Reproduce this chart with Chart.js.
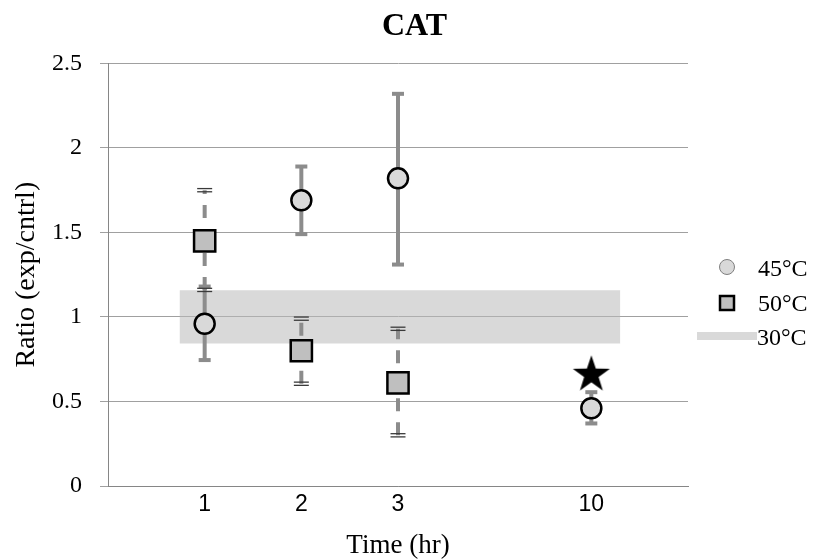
<!DOCTYPE html>
<html><head><meta charset="utf-8">
<script src="https://cdn.jsdelivr.net/npm/chart.js@4.4.0/dist/chart.umd.min.js"></script>
<style>html,body{margin:0;padding:0;background:#fff;}#wrap{width:819px;height:559px;}</style>
</head><body><div id="wrap"><canvas id="c" width="819" height="559"></canvas></div>
<script>
// ---- data ----
const timeLabels = ['1', '2', '3', '10'];
const timeSlots = [1, 2, 3, 5];          // axis slot of each time point (10 hr sits in slot 5)
const ratio45 = [0.96, 1.69, 1.82, 0.46];
const err45Low = [0.745, 1.49, 1.31, 0.37];
const err45High = [1.18, 1.89, 2.32, 0.555];
const ratio50 = [1.45, 0.80, 0.61, null];
const err50Low = [1.16, 0.605, 0.30, null];
const err50High = [1.75, 0.99, 0.93, null];
const band30Slots = [0.74, 5.3];
const band30Low = [0.843, 0.843];
const band30High = [1.158, 1.158];
const starSlots = [5];
const starValues = [0.658];
const yTicks = [0, 0.5, 1, 1.5, 2, 2.5];
const seriesNames = ['45°C', '50°C', '30°C'];

const SERIF = "'Liberation Serif', 'Times New Roman', serif";
const SANS = "'Liberation Sans', Arial, sans-serif";

// filled star marker image
const starImg = document.createElement('canvas');
starImg.width = 42; starImg.height = 42;
(function () {
  const g = starImg.getContext('2d');
  const R = 19.5, r = 7.6, cx = 21, cy = 21;
  g.beginPath();
  for (let k = 0; k < 10; k++) {
    const a = -Math.PI / 2 + k * Math.PI / 5;
    const rr = k % 2 === 0 ? R : r;
    const px = cx + rr * Math.cos(a), py = cy + rr * Math.sin(a);
    if (k === 0) g.moveTo(px, py); else g.lineTo(px, py);
  }
  g.closePath();
  g.fillStyle = '#000';
  g.fill();
})();

const pts = (xs, ys) => xs.map((x, i) => ({ x: x, y: ys[i] })).filter(p => p.y !== null);

const errorBars = {
  id: 'errorBars',
  afterDatasetDraw(chart, args) {
    if (args.index !== 3) return; // after the 30°C band has been painted
    const ctx = chart.ctx, xs = chart.scales.x, ys = chart.scales.y;
    ctx.save();
    // 45°C: solid gray bars with thick caps
    ctx.strokeStyle = '#8c8c8c'; ctx.fillStyle = '#8c8c8c'; ctx.lineWidth = 4;
    timeSlots.forEach((s, i) => {
      if (err45Low[i] === null) return;
      const px = xs.getPixelForValue(s), lo = ys.getPixelForValue(err45Low[i]), hi = ys.getPixelForValue(err45High[i]);
      ctx.beginPath(); ctx.moveTo(px, lo); ctx.lineTo(px, hi); ctx.stroke();
      ctx.fillRect(px - 6, hi - 2, 12, 4);
      ctx.fillRect(px - 6, lo - 2, 12, 4);
    });
    // 50°C: dashed gray bars with double-line caps
    timeSlots.forEach((s, i) => {
      if (err50Low[i] === null) return;
      const px = xs.getPixelForValue(s), lo = ys.getPixelForValue(err50Low[i]), hi = ys.getPixelForValue(err50High[i]);
      ctx.strokeStyle = '#8c8c8c'; ctx.lineWidth = 4; ctx.setLineDash([13, 11]);
      ctx.beginPath(); ctx.moveTo(px, lo); ctx.lineTo(px, hi); ctx.stroke();
      ctx.setLineDash([]);
      ctx.strokeStyle = '#3a3a3a'; ctx.lineWidth = 1.3;
      [hi, lo].forEach(cy => {
        [-1.6, 1.6].forEach(d => {
          ctx.beginPath(); ctx.moveTo(px - 7.5, cy + d); ctx.lineTo(px + 7.5, cy + d); ctx.stroke();
        });
      });
    });
    ctx.restore();
  }
};

const sideLegend = {
  id: 'sideLegend',
  afterDraw(chart) {
    const ctx = chart.ctx;
    ctx.save();
    // 45°C marker
    ctx.beginPath(); ctx.arc(727, 267, 7.5, 0, Math.PI * 2);
    ctx.fillStyle = '#d9d9d9'; ctx.fill();
    ctx.strokeStyle = '#7f7f7f'; ctx.lineWidth = 1; ctx.stroke();
    // 50°C marker
    ctx.fillStyle = '#bfbfbf'; ctx.fillRect(720, 296, 14, 14);
    ctx.strokeStyle = '#000'; ctx.lineWidth = 2.5; ctx.strokeRect(720, 296, 14, 14);
    // 30°C band
    ctx.fillStyle = '#d9d9d9'; ctx.fillRect(697, 332, 60, 8);
    ctx.fillStyle = '#000'; ctx.font = '24px ' + SERIF; ctx.textBaseline = 'alphabetic'; ctx.textAlign = 'left';
    ctx.fillText(seriesNames[0], 758, 276);
    ctx.fillText(seriesNames[1], 758, 311);
    ctx.fillText(seriesNames[2], 757, 345);
    ctx.restore();
  }
};

new Chart(document.getElementById('c'), {
  type: 'line',
  data: {
    datasets: [
      { label: seriesNames[0], data: pts(timeSlots, ratio45), showLine: false, order: 0,
        pointStyle: 'circle', pointRadius: 10, pointBackgroundColor: '#d9d9d9', pointBorderColor: '#000', pointBorderWidth: 2.5 },
      { label: seriesNames[1], data: pts(timeSlots, ratio50), showLine: false, order: 1,
        pointStyle: 'rect', pointRadius: 15, pointBackgroundColor: '#bfbfbf', pointBorderColor: '#000', pointBorderWidth: 2.5 },
      { label: 'significance', data: pts(starSlots, starValues), showLine: false, order: 2,
        pointStyle: starImg, pointRadius: 10 },
      { label: seriesNames[2], data: pts(band30Slots, band30High), order: 3, fill: '+1',
        backgroundColor: 'rgba(185,185,185,0.55)', borderWidth: 0, pointRadius: 0, tension: 0 },
      { label: seriesNames[2] + ' low', data: pts(band30Slots, band30Low), order: 4, fill: false,
        borderWidth: 0, pointRadius: 0, tension: 0 }
    ]
  },
  options: {
    responsive: false, animation: false, events: [], devicePixelRatio: 1,
    layout: { padding: { left: 10, right: 0, top: 0, bottom: 0 } },
    plugins: {
      legend: { display: false }, tooltip: { enabled: false },
      title: { display: true, text: 'CAT', color: '#000',
        font: { family: SERIF, size: 32, weight: 'bold' }, padding: { top: 8, bottom: 17 } }
    },
    scales: {
      x: {
        type: 'linear', min: 0, max: 6,
        afterBuildTicks: s => { s.ticks = timeSlots.map(v => ({ value: v })); },
        afterFit: s => { s.height = 73; },
        ticks: { callback: v => { const k = timeSlots.indexOf(v); return k >= 0 ? timeLabels[k] : ''; },
          font: { family: SANS, size: 23 }, color: '#000', padding: 5, maxRotation: 0, autoSkip: false },
        grid: { display: false, drawTicks: false },
        border: { display: true, color: '#868686', width: 1 },
        title: { display: true, text: 'Time (hr)', color: '#000', font: { family: SERIF, size: 27 }, padding: { top: 4, bottom: -3 } }
      },
      y: {
        type: 'linear', min: 0, max: 2.5, position: 'left',
        afterBuildTicks: s => { s.ticks = yTicks.map(v => ({ value: v })); },
        afterFit: s => { s.width = 98; },
        ticks: { callback: v => String(v), font: { family: SERIF, size: 24 }, color: '#000', padding: 18 },
        grid: { color: '#a0a0a0', lineWidth: 1, tickLength: 8, drawTicks: true },
        border: { display: true, color: '#868686', width: 1 },
        title: { display: true, text: 'Ratio (exp/cntrl)', color: '#000', font: { family: SERIF, size: 28 }, padding: { top: 0, bottom: 0 } }
      },
      legendSpace: {
        type: 'linear', position: 'right', display: true,
        afterFit: s => { s.width = 131; },
        ticks: { display: false }, grid: { display: false, drawTicks: false }, border: { display: false }
      }
    }
  },
  plugins: [errorBars, sideLegend]
});
</script>
</body></html>
